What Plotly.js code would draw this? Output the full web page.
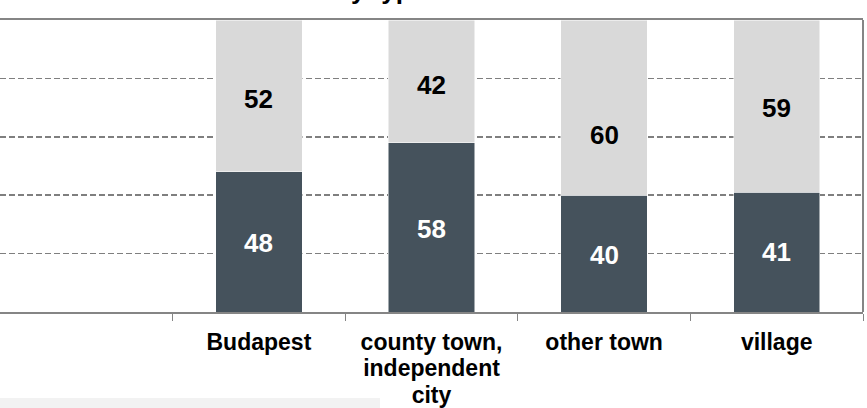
<!DOCTYPE html>
<html>
<head>
<meta charset="utf-8">
<script src="https://cdn.plot.ly/plotly-3.0.1.min.js"></script>
<style>
  html, body { margin: 0; padding: 0; background: #ffffff; }
  #chart { width: 867px; height: 408px; }
</style>
</head>
<body>
<div id="chart"></div>
<script>
// ---- data ----
const categories = ['Budapest', 'county town,\nindependent\ncity', 'other town', 'village'];
const darkValues = [48, 58, 40, 41];
const lightValues = [52, 42, 60, 59];
const titleText = 'Distribution by type of settlement';

// ---- layout tweaks (pixel nudges of label placement, as in the reference) ----
const darkLabelShift = [-1, -2, -1, 0];
const lightLabelShift = [-3, -4, -27, -2];

const FONT = 'Arial, "Liberation Sans", sans-serif';
const DARK = '#45525c';
const LIGHT = '#d9d9d9';

// tick text: glyphs at 23px, tighter line spacing than Plotly's default
const tickText = categories.map(c =>
  c.split('\n').map(line => '<span style="font-size:23px">' + line + '</span>').join('<br>')
);

const traces = [
  {
    type: 'bar', x: categories, y: darkValues, name: 'dark',
    marker: { color: DARK, line: { color: '#ffffff', width: 0.5 } },
    hoverinfo: 'skip'
  },
  {
    type: 'bar', x: categories, y: lightValues, name: 'light',
    marker: { color: LIGHT, line: { color: '#ffffff', width: 0.5 } },
    hoverinfo: 'skip'
  }
];

const annotations = [];
categories.forEach((c, i) => {
  annotations.push({
    x: c, y: darkValues[i] / 2, xref: 'x', yref: 'y',
    text: String(darkValues[i]), showarrow: false,
    yshift: darkLabelShift[i],
    font: { family: FONT, size: 26, color: '#ffffff', weight: 'bold' }
  });
  annotations.push({
    x: c, y: darkValues[i] + lightValues[i] / 2, xref: 'x', yref: 'y',
    text: String(lightValues[i]), showarrow: false,
    yshift: lightLabelShift[i],
    font: { family: FONT, size: 26, color: '#000000', weight: 'bold' }
  });
});
// title (mostly cut off above the visible area in the reference)
annotations.push({
  text: titleText, xref: 'paper', yref: 'paper',
  x: 180 / 863, y: 1.045, xanchor: 'left', yanchor: 'bottom',
  showarrow: false,
  font: { family: FONT, size: 26, color: '#000000', weight: 'bold' }
});

const layout = {
  width: 867, height: 408,
  margin: { l: 0, r: 4, t: 20, b: 96, pad: 0 },
  paper_bgcolor: '#ffffff', plot_bgcolor: '#ffffff',
  barmode: 'stack', bargap: 0.5,
  showlegend: false,
  font: { family: FONT, color: '#000000' },
  xaxis: {
    type: 'category', range: [-1.5, 3.5],
    tickmode: 'array', tickvals: categories, ticktext: tickText,
    showline: true, linecolor: '#858585', linewidth: 2, mirror: true,
    ticks: 'outside', tickson: 'boundaries', ticklen: 7, tickcolor: '#858585', tickwidth: 1,
    ticklabelstandoff: 11,
    showgrid: false,
    tickfont: { family: FONT, size: 20.5, color: '#000000', weight: 'bold' },
    fixedrange: true
  },
  yaxis: {
    range: [0, 100], dtick: 20,
    showticklabels: false, ticks: '',
    showgrid: true, gridcolor: '#7f7f7f', gridwidth: 1.5, griddash: '6px,3px',
    zeroline: false, showline: false,
    fixedrange: true
  },
  shapes: [
    { type: 'line', xref: 'paper', yref: 'paper', x0: 1, x1: 1, y0: 0, y1: 1,
      line: { color: '#858585', width: 2 } },
    { type: 'rect', xref: 'paper', yref: 'paper', layer: 'below',
      x0: 0, x1: 380 / 863, y0: (312 - 408) / 292, y1: (312 - 398) / 292,
      fillcolor: '#f2f2f2', line: { width: 0 } }
  ],
  annotations: annotations
};

Plotly.newPlot('chart', traces, layout, { displayModeBar: false, staticPlot: true });
</script>
</body>
</html>
